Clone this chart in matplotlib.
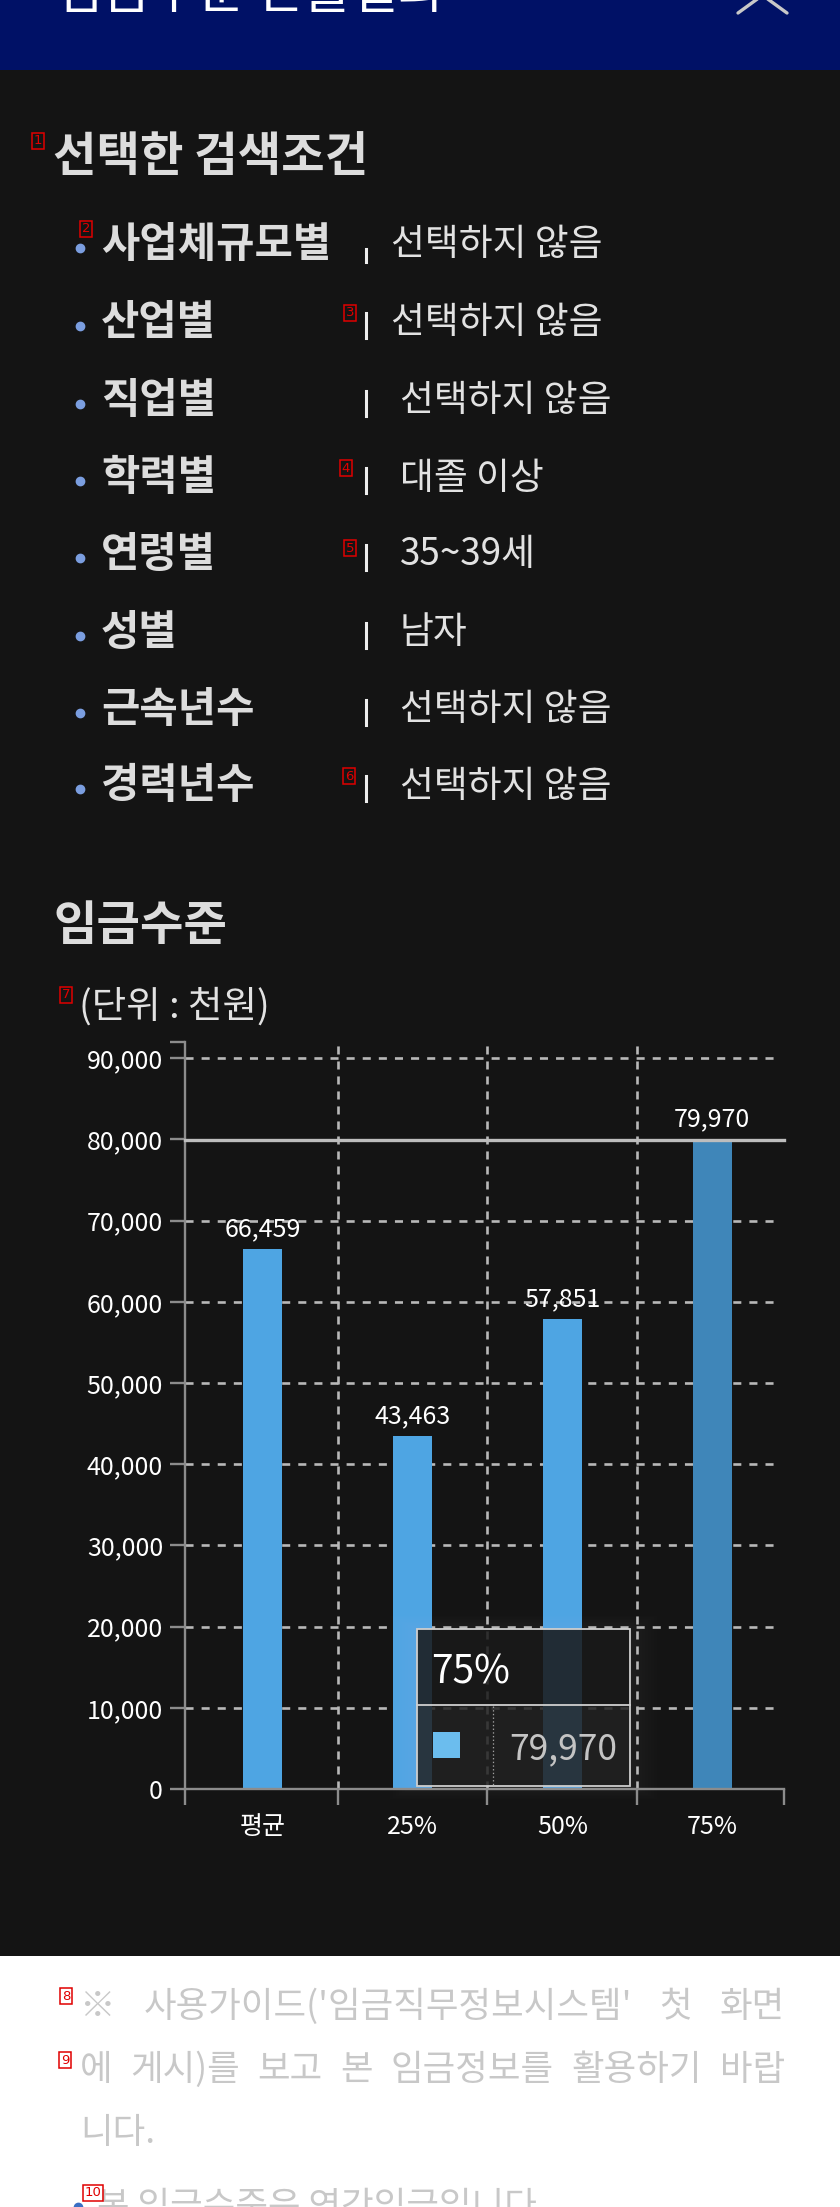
import matplotlib
matplotlib.use("Agg")
import matplotlib.pyplot as plt
from matplotlib.patches import Rectangle
from matplotlib.lines import Line2D

plt.rcParams['font.family'] = ['Noto Sans CJK KR', 'DejaVu Sans']
plt.rcParams['lines.scale_dashes'] = False

W, H = 840, 2207

# ---- data ----
page_title = "임금수준 산출결과"
cond_title = "선택한 검색조건"
conditions = ["사업체규모별", "산업별", "직업별", "학력별", "연령별", "성별", "근속년수", "경력년수"]
selected = ["선택하지 않음", "선택하지 않음", "선택하지 않음", "대졸 이상",
            "35~39세", "남자", "선택하지 않음", "선택하지 않음"]
chart_title = "임금수준"
unit_label = "(단위 : 천원)"
categories = ["평균", "25%", "50%", "75%"]
wages = [66459, 43463, 57851, 79970]
y_ticks = [0, 10000, 20000, 30000, 40000, 50000, 60000, 70000, 80000, 90000]
hover_idx = 3
notes = ["※  사용가이드('임금직무정보시스템' 첫 화면",
         "에 게시)를 보고 본 임금정보를 활용하기 바랍",
         "니다."]
note_bullet = "본 임금수준은 연간임금입니다."

BG = '#141414'
fig = plt.figure(figsize=(W / 100, H / 100), dpi=100, facecolor=BG)


def fx(x):
    return x / W


def fy(y):
    return 1 - y / H


def txt(x, y, s, **kw):
    kw.setdefault('va', 'center')
    return fig.text(fx(x), fy(y), s, **kw)


def rect(x0, y0, x1, y1, **kw):
    r = Rectangle((fx(x0), fy(y1)), (x1 - x0) / W, (y1 - y0) / H,
                  transform=fig.transFigure, **kw)
    fig.add_artist(r)
    return r


def line(xs, ys, **kw):
    fig.add_artist(Line2D([fx(x) for x in xs], [fy(y) for y in ys],
                          transform=fig.transFigure, **kw))


def marker(x, y, n):
    # small red overlay numbers from the screenshot
    txt(x, y, str(n), fontsize=9.5, color='#e00000', ha='center',
        family='DejaVu Sans',
        bbox=dict(boxstyle='square,pad=0.1', fc='none', ec='#e00000', lw=1.1))


# header band
rect(0, 0, W, 70, facecolor='#001166', edgecolor='none', zorder=-5)
txt(56, 8, page_title, fontsize=37, color='white', va='baseline')
line([738, 778], [13, -16], color='#c8c8c8', lw=2.4, solid_capstyle='round')
line([787, 747], [13, -16], color='#c8c8c8', lw=2.4, solid_capstyle='round')

# selected conditions
txt(53, 157, cond_title, fontsize=34, weight='bold', color='#dddddd')
marker(38, 141, 1)

row_y = [245, 323, 401, 478, 555, 633, 710, 786]
val_x = [391, 391, 400, 400, 400, 400, 400, 400]
for i, (lab, val) in enumerate(zip(conditions, selected)):
    y = row_y[i]
    line([80], [y + 3], marker='o', markersize=6, color='#7b9ee0', lw=0)
    txt(101, y, lab, fontsize=30, weight='bold', color='#dddddd')
    if i == 0:
        line([366, 366], [249, 262], color='#eeeeee', lw=2.2)
    else:
        line([366, 366], [y - 10, y + 15], color='#eeeeee', lw=2.2)
    txt(val_x[i], y, val, fontsize=26.5, color='#e2e2e2')

marker(86, 229, 2)
marker(350, 313, 3)
marker(346, 468, 4)
marker(350, 548, 5)
marker(349, 776, 6)

# chart heading
txt(53, 926, chart_title, fontsize=34, weight='bold', color='#dddddd')
txt(79, 1007, unit_label, fontsize=27, color='#e2e2e2')
marker(66, 995, 7)

# ---- chart ----
ax = fig.add_axes([fx(185), fy(1789), (784 - 185) / W, (1789 - 1042) / H])
ax.set_facecolor('none')
ax.set_xlim(-0.52, 3.48)
ax.set_ylim(0, 92000)

grid_c = '#b8b8b8'
for v in y_ticks[1:]:
    if v == 80000:
        continue  # hidden under the hover line
    ax.axhline(v, xmin=0, xmax=(777 - 185) / 599, color=grid_c, lw=1.9,
               dashes=(5.8, 5.8), zorder=1)
for b in [0.5, 1.5, 2.5]:
    ax.axvline(b, color=grid_c, lw=1.9, dashes=(5.8, 5.0), zorder=1)

colors = ['#4ea5e3'] * len(wages)
colors[hover_idx] = '#3f86b9'
ax.bar(range(len(wages)), wages, width=0.26, color=colors, zorder=2)
for i, v in enumerate(wages):
    ax.annotate(f"{v:,}", (i, v), xytext=(0, 5), textcoords='offset points',
                ha='center', va='bottom', color='white', fontsize=18, zorder=4)

# hover crosshair
ax.axhline(wages[hover_idx], color='#bdbdbd', lw=2.4, zorder=3, clip_on=False)

for s in ['top', 'right']:
    ax.spines[s].set_visible(False)
for s in ['left', 'bottom']:
    ax.spines[s].set_color('#8c8c8c')
    ax.spines[s].set_linewidth(1.7)

ax.set_yticks(y_ticks + [92000])
ax.set_yticklabels([f"{v:,}" for v in y_ticks] + [''])
ax.tick_params(axis='y', length=10.8, width=1.7, color='#8c8c8c',
               labelcolor='white', labelsize=18, pad=5)
ax.set_xticks([-0.52, 0.5, 1.5, 2.5, 3.48])
ax.set_xticklabels([])
ax.set_xticks(range(len(categories)), minor=True)
ax.set_xticklabels(categories, minor=True)
ax.tick_params(axis='x', which='major', length=11.5, width=1.7, color='#8c8c8c')
ax.tick_params(axis='x', which='minor', length=0, labelcolor='white',
               labelsize=18, pad=18)

# ---- tooltip ----
for k in range(3, 30, 3):
    rect(417 - k, 1629 - k // 2, 630 + k, 1786 + k // 2, facecolor='white',
         alpha=0.006, edgecolor='none')
rect(417, 1629, 630, 1705, facecolor='#181818', alpha=0.86, edgecolor='none')
rect(417, 1705, 630, 1786, facecolor='#202020', alpha=0.84, edgecolor='none')
rect(417, 1629, 630, 1786, fill=False, edgecolor='#cfcfcf', lw=1.3)
line([417, 630], [1705, 1705], color='#cfcfcf', lw=1.3)
line([493, 493], [1706, 1785], color='#a0a0a0', lw=0.9, linestyle=':')
rect(433, 1732, 460, 1758, facecolor='#6bbdee', edgecolor='none')
txt(431, 1672, categories[hover_idx], fontsize=28, color='white')
txt(509, 1749, f"{wages[hover_idx]:,}", fontsize=25.5, color='#c4c4c4')

# ---- footer notes ----
rect(0, 1956, W, H, facecolor='white', edgecolor='none', zorder=-5)
renderer = fig.canvas.get_renderer()


def justify(s, x0, x1, y, **kw):
    words = s.split()
    arts = [txt(0, y, w, **kw) for w in words]
    widths = [a.get_window_extent(renderer=renderer).width for a in arts]
    gap = (x1 - x0 - sum(widths)) / (len(words) - 1)
    x = x0
    for a, wd in zip(arts, widths):
        a.set_x(fx(x))
        x += wd + gap


note_kw = dict(fontsize=25.5, color='#c8c8c8')
justify(notes[0], 80, 785, 2007, **note_kw)
justify(notes[1], 80, 785, 2070, **note_kw)
txt(80, 2133, notes[2], **note_kw)
line([78], [2207], marker='o', markersize=6, color='#3a6fc4', lw=0)
txt(97, 2207, note_bullet, **note_kw)
marker(66, 1996, 8)
marker(65, 2060, 9)
marker(93, 2193, 10)

fig.savefig('out.png', dpi=100, facecolor=BG)
